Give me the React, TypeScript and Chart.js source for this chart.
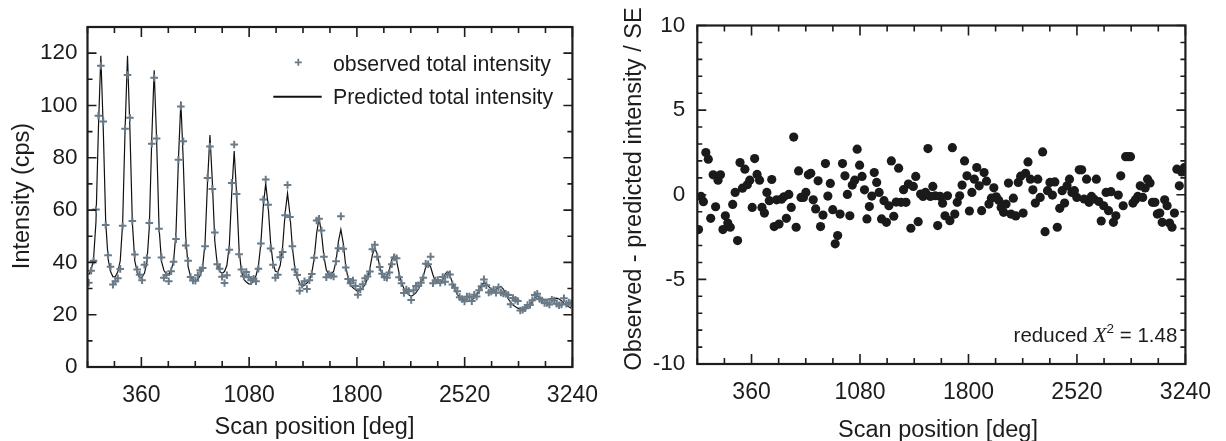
import React, { useEffect, useRef } from "react";
import { Chart, registerables } from "chart.js";

Chart.register(...registerables);

const SANS = '"Liberation Sans", Arial, Helvetica, sans-serif';
const SERIF = '"Liberation Serif", "Times New Roman", serif';
const INK = "#1c1c1c";
const OBS_COLOR = "#6a7a87";

// scan grid (bin centres, deg)
const SCAN_START = 8.1;
const SCAN_STEP = 16.2;
const X_MIN = 0;
const X_MAX = 3240;
const X_TICKS = [360, 1080, 1800, 2520, 3240];
const X_MINOR_STEP = 180;
const INT_TICKS = [0, 20, 40, 60, 80, 100, 120];
const INT_MIN = 0;
const INT_MAX = 130;
const INT_MINOR_STEP = 10;
const RES_TICKS = [-10, -5, 0, 5, 10];
const RES_MIN = -10;
const RES_MAX = 10;
const RES_MINOR_STEP = 1;

const OBSERVED = [
  32.2, 36.8, 40.6, 60.2, 96.1, 115.2, 93.9, 54.3, 42.7, 38.3,
  31.5, 32.8, 33.9, 37.5, 54.0, 91.1, 111.6, 95.3, 55.8, 43.0,
  37.3, 35.3, 33.2, 39.1, 41.8, 55.1, 85.4, 110.6, 87.4, 52.9,
  41.9, 34.1, 35.2, 32.8, 36.6, 40.2, 48.9, 79.2, 99.6, 86.3,
  46.5, 40.6, 34.4, 33.1, 33.0, 35.1, 37.0, 37.9, 46.2, 72.3,
  84.3, 68.1, 51.4, 39.3, 37.6, 34.5, 32.1, 35.1, 44.8, 70.4,
  85.1, 66.1, 43.1, 37.3, 34.7, 36.3, 34.3, 33.2, 33.7, 32.8,
  37.6, 47.2, 64.0, 71.7, 62.0, 45.3, 39.1, 34.1, 35.3, 42.0,
  44.0, 58.0, 69.6, 57.4, 46.2, 37.3, 35.2, 29.2, 31.5, 32.8,
  29.8, 33.2, 35.6, 41.8, 56.0, 56.7, 52.2, 42.2, 34.3, 35.4,
  35.0, 34.6, 40.4, 45.4, 57.6, 45.2, 38.0, 33.6, 32.0, 33.1,
  31.0, 27.6, 29.7, 31.6, 33.9, 34.6, 36.5, 45.0, 46.7, 42.2,
  38.2, 35.7, 34.3, 34.1, 36.1, 39.3, 41.9, 41.6, 34.3, 32.0,
  28.3, 29.6, 29.0, 25.6, 29.3, 31.0, 31.1, 32.2, 34.1, 39.5,
  39.3, 42.2, 32.0, 33.1, 33.2, 32.2, 34.4, 32.6, 35.3, 35.4,
  31.5, 30.3, 29.0, 26.7, 26.0, 25.1, 26.9, 26.9, 25.2, 27.6,
  27.0, 29.3, 30.9, 33.5, 31.3, 28.5, 28.9, 29.6, 28.4, 30.5,
  28.5, 28.1, 28.0, 27.5, 24.0, 26.4, 25.7, 25.2, 21.6, 21.9,
  22.5, 23.7, 23.7, 25.5, 27.5, 28.0, 26.0, 25.4, 24.5, 24.5,
  23.9, 25.7, 25.4, 24.2, 23.6, 23.9, 26.3, 24.2, 24.6, 24.4,
];

const PREDICTED = [
  35.3, 37, 41.3, 55.6, 91.1, 119, 91.1, 55.6, 41.3, 36.5,
  34.5, 34.6, 36.4, 40.6, 55.1, 90.8, 119, 90.8, 55.1, 40.6,
  36.4, 34.0, 34.3, 35.9, 39.9, 53.5, 87.1, 113.5, 87.1, 53.5,
  40.5, 37, 35.6, 35.4, 37, 40.4, 51.4, 79.2, 101.5, 78.7,
  49.9, 38.4, 34.6, 33.3, 32.8, 33.4, 35.1, 38.4, 47.7, 70.6,
  88.7, 70.6, 48.2, 39.4, 36.6, 35.8, 36.5, 38.9, 46.7, 66.6,
  82.6, 66.1, 45.2, 36.4, 33.5, 32.5, 31.8, 31.7, 33.3, 34.9,
  38.7, 47.3, 61.4, 70.2, 61.7, 47.8, 39.6, 36.6, 36.3, 38.9,
  46.2, 58.8, 66.4, 58.3, 45.7, 38, 34.3, 32.0, 30.8, 31.3,
  32.1, 33.1, 35.8, 41.6, 51.1, 56.9, 51.3, 42.3, 37.1, 35.5,
  35.7, 36.5, 40.5, 48, 52.6, 47.2, 38.7, 33.7, 31.2, 30.3,
  29.5, 28.9, 29.5, 30.3, 31.6, 33.8, 37.9, 42.9, 45.4, 43.1,
  38.5, 35.1, 34.5, 34.6, 37.2, 41, 42.8, 40.5, 36, 32.3,
  30, 28.6, 27.6, 27.0, 27.6, 28.4, 29.8, 31.8, 34.8, 38.1,
  39.6, 38.3, 35.2, 32.7, 32.2, 32.2, 33.3, 35.5, 36.5, 35,
  32.2, 29.6, 27.8, 26.5, 25.7, 25.3, 25.1, 25.1, 25.5, 26.4,
  27.6, 29.4, 31.3, 32.2, 31.8, 30.7, 29.8, 29.4, 29.7, 30.3,
  30.8, 29.8, 28, 26.1, 24.8, 23.7, 23, 22.5, 22.2, 22.3,
  22.6, 23.1, 23.9, 25.0, 26.3, 27.1, 26.6, 26.0, 25.9, 25.9,
  26.0, 26.1, 26.2, 26.3, 26.0, 25.3, 24.4, 23.6, 23.0, 22.5,
];

const RESIDUALS = [
  -2.06, -0.1, -0.41, 2.49, 2.1, -1.39, 1.18, -0.71, 0.86, 1.18,
  -2.06, -1.24, -1.67, -1.92, -0.57, 0.14, -2.71, 1.9, 0.39, 1.51,
  0.59, 0.86, -0.75, 2.14, 1.2, 0.86, -0.75, -1.08, 0.14, -0.35,
  0.9, -1.88, -0.3, -1.73, -0.26, -0.12, -1.39, 0.02, -0.75, 3.41,
  -1.92, 1.41, -0.16, -0.16, 0.14, 1.18, 1.27, -0.3, -0.84, 0.82,
  -1.88, -1.2, 1.84, -0.08, 0.67, -0.88, -2.9, -2.41, -1.14, 1.84,
  1.12, 0.02, -1.24, 0.57, 0.86, 2.69, 1.75, 1.08, 0.29, -1.43,
  -0.7, -0.08, 1.31, 0.73, 0.14, -1.43, -0.35, -1.63, -0.65, 2.0,
  -1.27, -0.43, 1.57, -0.45, 0.3, -0.45, 0.63, -1.98, 0.49, 1.08,
  -1.59, 0.04, -0.1, 0.14, 2.73, -0.1, 0.49, -0.06, -1.82, -0.1,
  -0.5, -1.24, -0.06, -1.53, 2.78, -1.14, -0.45, -0.06, 0.57, 2.0,
  1.12, -0.96, 0.14, 0.92, 1.61, 0.53, -0.94, 1.31, 0.8, -0.55,
  -0.2, 0.41, -0.12, -0.33, -0.75, -1.04, -0.55, 0.69, -1.14, -0.2,
  -1.25, 0.73, 1.1, -1.08, 1.27, 1.94, 0.92, 0.29, -0.49, 0.92,
  -0.16, 2.53, -2.18, 0.24, 0.73, -0.02, 0.76, -1.92, -0.8, 0.24,
  -0.49, 0.53, 0.92, 0.14, 0.24, -0.16, 1.47, 1.47, -0.25, 0.92,
  -0.45, -0.1, -0.25, 0.92, -0.4, -1.55, -0.65, 0.14, -0.94, 0.18,
  -1.63, -1.24, -0.02, 1.12, -0.65, 2.25, 2.25, 2.25, -0.49, -0.3,
  -0.1, 0.53, -0.16, 0.4, 0.92, 0.7, -0.45, -0.45, -1.14, -1.08,
  -1.63, -0.3, -0.65, -1.67, -1.92, -1.08, 1.51, 0.53, 1.35, 1.6,
];

const LEGEND_LABELS = ["observed total intensity", "Predicted total intensity"];
const X_TITLE = "Scan position [deg]";
const LEFT_Y_TITLE = "Intensity (cps)";
const RIGHT_Y_TITLE = "Observed - predicted intensity / SE";
const CHI_LABEL = { before: "reduced ", symbol: "X", power: "2", after: " = 1.48" };

const toPoints = (values: number[]) =>
  values.map((v, k) => ({ x: SCAN_START + SCAN_STEP * k, y: v }));

type TickSpec = { min: number; max: number; step: number; major: number[] };

function makeDecor(xs: TickSpec, ys: TickSpec, drawText: (ctx: CanvasRenderingContext2D, a: any) => void) {
  return {
    id: "decor",
    afterDraw(chart: any) {
      const { ctx, chartArea: a, scales } = chart;
      const sx = scales.x;
      const sy = scales.y;
      ctx.save();
      ctx.strokeStyle = INK;
      ctx.lineWidth = 1.6;
      ctx.beginPath();
      for (let v = xs.min; v <= xs.max + 1e-6; v += xs.step) {
        const p = sx.getPixelForValue(v);
        const len = xs.major.includes(v) ? 10 : 6;
        ctx.moveTo(p, a.bottom);
        ctx.lineTo(p, a.bottom - len);
        ctx.moveTo(p, a.top);
        ctx.lineTo(p, a.top + len);
      }
      for (let i = 0; ys.min + i * ys.step <= ys.max + 1e-6; i++) {
        const v = ys.min + i * ys.step;
        const p = sy.getPixelForValue(v);
        const len = ys.major.includes(Math.round(v * 1000) / 1000) ? 9 : 5;
        ctx.moveTo(a.left, p);
        ctx.lineTo(a.left + len, p);
        ctx.moveTo(a.right, p);
        ctx.lineTo(a.right - len, p);
      }
      ctx.stroke();
      ctx.lineWidth = 2.2;
      ctx.strokeRect(a.left, a.top, a.right - a.left, a.bottom - a.top);
      ctx.fillStyle = INK;
      drawText(ctx, a);
      ctx.restore();
    },
  };
}

function rotatedText(ctx: CanvasRenderingContext2D, text: string, cx: number, cy: number) {
  ctx.save();
  ctx.translate(cx, cy);
  ctx.rotate(-Math.PI / 2);
  ctx.textAlign = "center";
  ctx.textBaseline = "middle";
  ctx.fillText(text, 0, 0);
  ctx.restore();
}

function axisScales(xHeight: number, yWidth: number, yMin: number, yMax: number, yTicks: number[], yPad: number) {
  return {
    x: {
      type: "linear",
      min: X_MIN,
      max: X_MAX,
      afterFit: (s: any) => {
        s.height = xHeight;
      },
      afterBuildTicks: (s: any) => {
        s.ticks = X_TICKS.map((v) => ({ value: v }));
      },
      ticks: {
        callback: (v: any) => String(v),
        font: { family: SANS, size: 23 },
        color: INK,
        padding: 15,
        maxRotation: 0,
        minRotation: 0,
        autoSkip: false,
      },
      grid: { display: false, drawTicks: false },
      border: { display: false },
    },
    y: {
      type: "linear",
      min: yMin,
      max: yMax,
      afterFit: (s: any) => {
        s.width = yWidth;
      },
      afterBuildTicks: (s: any) => {
        s.ticks = yTicks.map((v) => ({ value: v }));
      },
      ticks: {
        callback: (v: any) => String(v),
        font: { family: SANS, size: 22.5 },
        color: INK,
        padding: yPad,
        autoSkip: false,
      },
      grid: { display: false, drawTicks: false },
      border: { display: false },
    },
  };
}

export default function App() {
  const leftRef = useRef<HTMLCanvasElement>(null);
  const rightRef = useRef<HTMLCanvasElement>(null);

  useEffect(() => {
    const leftDecor = makeDecor(
      { min: X_MIN, max: X_MAX, step: X_MINOR_STEP, major: X_TICKS },
      { min: INT_MIN, max: INT_MAX, step: INT_MINOR_STEP, major: INT_TICKS },
      (ctx) => {
        ctx.font = `23.5px ${SANS}`;
        rotatedText(ctx, LEFT_Y_TITLE, 23, 196);
        ctx.textAlign = "center";
        ctx.textBaseline = "alphabetic";
        ctx.fillText(X_TITLE, 314.5, 434);
        // legend
        ctx.font = `21.3px ${SANS}`;
        ctx.textAlign = "left";
        ctx.fillText(LEGEND_LABELS[0], 333, 70.5);
        ctx.fillText(LEGEND_LABELS[1], 333, 104);
        ctx.strokeStyle = OBS_COLOR;
        ctx.lineWidth = 1.8;
        ctx.beginPath();
        ctx.moveTo(294.8, 62.3);
        ctx.lineTo(301.8, 62.3);
        ctx.moveTo(298.3, 58.8);
        ctx.lineTo(298.3, 65.8);
        ctx.stroke();
        ctx.strokeStyle = "#111";
        ctx.lineWidth = 2;
        ctx.beginPath();
        ctx.moveTo(273.3, 96.7);
        ctx.lineTo(321.7, 96.7);
        ctx.stroke();
      }
    );

    const rightDecor = makeDecor(
      { min: X_MIN, max: X_MAX, step: X_MINOR_STEP, major: X_TICKS },
      { min: RES_MIN, max: RES_MAX, step: RES_MINOR_STEP, major: RES_TICKS },
      (ctx) => {
        ctx.font = `23.5px ${SANS}`;
        rotatedText(ctx, RIGHT_Y_TITLE, 21.5, 189);
        ctx.textAlign = "center";
        ctx.textBaseline = "alphabetic";
        ctx.fillText(X_TITLE, 325, 437);
        // reduced chi^2 annotation
        const parts = [
          { t: CHI_LABEL.before, f: `20.5px ${SANS}`, dy: 0 },
          { t: CHI_LABEL.symbol, f: `italic 21.5px ${SERIF}`, dy: 0 },
          { t: CHI_LABEL.power, f: `13.5px ${SANS}`, dy: -9 },
          { t: CHI_LABEL.after, f: `20.5px ${SANS}`, dy: 0 },
        ];
        let total = 0;
        for (const p of parts) {
          ctx.font = p.f;
          total += ctx.measureText(p.t).width;
        }
        let x = 564.3 - total;
        ctx.textAlign = "left";
        for (const p of parts) {
          ctx.font = p.f;
          ctx.fillText(p.t, x, 341.7 + p.dy);
          x += ctx.measureText(p.t).width;
        }
      }
    );

    const left = new Chart(leftRef.current as HTMLCanvasElement, {
      type: "scatter",
      data: {
        datasets: [
          {
            label: LEGEND_LABELS[0],
            data: toPoints(OBSERVED),
            pointStyle: "cross",
            pointRadius: 3.8,
            pointBorderWidth: 2,
            borderColor: OBS_COLOR,
            backgroundColor: OBS_COLOR,
            showLine: false,
            order: 0,
          },
          {
            label: LEGEND_LABELS[1],
            data: toPoints(PREDICTED),
            showLine: true,
            pointRadius: 0,
            borderColor: "#111111",
            backgroundColor: "#111111",
            borderWidth: 1.2,
            tension: 0,
            order: 1,
          },
        ],
      } as any,
      options: {
        animation: false,
        responsive: false,
        events: [],
        layout: { padding: { top: 27, right: 34.5, left: 0, bottom: 0 } },
        plugins: { legend: { display: false }, tooltip: { enabled: false } },
        scales: axisScales(74, 87.5, INT_MIN, INT_MAX, INT_TICKS, 10) as any,
      } as any,
      plugins: [leftDecor as any],
    });

    const right = new Chart(rightRef.current as HTMLCanvasElement, {
      type: "scatter",
      data: {
        datasets: [
          {
            label: "residual",
            data: toPoints(RESIDUALS),
            pointStyle: "circle",
            pointRadius: 4.6,
            pointBorderWidth: 0,
            borderColor: "#1a1a1a",
            backgroundColor: "#1a1a1a",
            showLine: false,
          },
        ],
      } as any,
      options: {
        animation: false,
        responsive: false,
        events: [],
        layout: { padding: { top: 24, right: 37, left: 0, bottom: 0 } },
        plugins: { legend: { display: false }, tooltip: { enabled: false } },
        scales: axisScales(77, 84.3, RES_MIN, RES_MAX, RES_TICKS, 12) as any,
      } as any,
      plugins: [rightDecor as any],
    });

    return () => {
      left.destroy();
      right.destroy();
    };
  }, []);

  return (
    <div
      style={{
        position: "fixed",
        left: 0,
        top: 0,
        width: 1226,
        height: 441,
        background: "#ffffff",
        display: "flex",
      }}
    >
      <canvas ref={leftRef} width={613} height={441} style={{ width: 613, height: 441, display: "block" }} />
      <canvas ref={rightRef} width={613} height={441} style={{ width: 613, height: 441, display: "block" }} />
    </div>
  );
}
